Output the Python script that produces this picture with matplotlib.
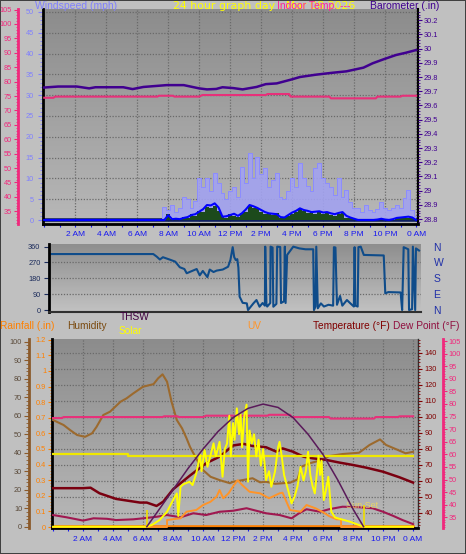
import numpy as np
import matplotlib
matplotlib.use('Agg')
import matplotlib.pyplot as plt
from matplotlib.ticker import MultipleLocator, FuncFormatter
from matplotlib.colors import LinearSegmentedColormap

plt.rcParams['font.family'] = ['Liberation Sans', 'DejaVu Sans']

# ======================= data =======================
time_ticks = [2, 4, 6, 8, 10, 12, 14, 16, 18, 20, 22, 24]
time_labels = ['2 AM', '4 AM', '6 AM', '8 AM', '10 AM', '12 PM',
               '2 PM', '4 PM', '6 PM', '8 PM', '10 PM', '0 AM']

# barometer (in)
baro_h = [0.0, 0.9, 2.1, 2.9, 3.3, 5.1, 5.7, 6.4, 7.9, 9.0, 10.0, 10.5, 11.1, 11.5, 12.2,
          12.8, 13.7, 14.3, 15.0, 16.0, 16.5, 17.5, 18.6, 19.5, 20.6, 21.2, 21.9, 22.7, 23.3, 24.0]
baro_in = [29.726, 29.733, 29.733, 29.72, 29.728, 29.728, 29.715, 29.73, 29.743, 29.743,
           29.72, 29.713, 29.716, 29.728, 29.722, 29.713, 29.73, 29.75, 29.755, 29.784,
           29.80, 29.816, 29.83, 29.84, 29.866, 29.897, 29.925, 29.955, 29.97, 29.99]

# indoor temperature (F)
indoor_h = [0.0, 0.6, 0.7, 7.3, 7.4, 8.3, 8.4, 10.0, 10.2, 14.3, 14.4, 15.8, 15.9,
            18.4, 18.5, 21.4, 21.5, 23.0, 23.1, 24.0]
indoor_f = [74.4, 74.4, 74.8, 74.8, 75.1, 75.1, 74.8, 74.8, 75.35, 75.35, 75.7, 75.7, 74.8,
            74.8, 74.2, 74.2, 74.8, 74.8, 75.1, 75.1]

# wind (mph), every 15 minutes from 0:00 to 24:00
wind_h = np.arange(0, 24.01, 0.25)
gust_mph = [0.0] * 31 + [
    3.2, 2.4, 3.5, 2.0, 3.0,
    5.6, 5.0, 3.0, 4.5,
    10.0, 8.0, 10.0, 7.0,
    11.2, 9.0, 6.5, 5.0,
    7.0, 8.0, 5.5, 12.8,
    9.0, 16.0, 10.0, 15.2,
    11.0, 12.5, 8.0, 9.5,
    11.3, 5.6, 5.0, 7.0,
    10.0, 8.0, 13.7, 10.0,
    8.2, 7.0, 12.5, 13.7,
    10.0, 9.0, 8.0, 6.0,
    10.0, 5.5, 7.2, 4.4,
    3.0, 2.9, 2.0, 3.5,
    2.5, 2.0, 2.6, 4.4,
    3.0, 2.5, 3.0, 3.6,
    3.0, 5.3, 7.2, 2.4,
    1.0]
avg_mph = [0.0] * 31 + [
    0.0, 1.2, 0.2, 0.3, 0.2,
    0.5, 0.7, 1.2, 1.4,
    2.0, 2.6, 3.6, 3.5,
    4.0, 3.0, 0.8, 0.9,
    1.2, 1.5, 1.0, 1.6,
    2.5, 3.6, 3.3, 2.9,
    2.4, 1.9, 1.6, 1.5,
    1.4, 0.7, 0.6, 1.2,
    1.8, 2.2, 2.8, 2.4,
    2.2, 1.9, 2.0, 2.1,
    1.8, 1.9, 1.6, 1.4,
    1.7, 1.9, 1.0, 0.6,
    0.3, 0.0, 0.0, 0.0,
    0.0, 0.0, 0.1, 0.3,
    0.1, 0.0, 0.2, 0.5,
    0.6, 0.7, 0.8, 0.6,
    0.0]
speed_mph = [0.0] * 31 + [
    0.0, 1.5, 0.3, 0.5, 0.3,
    0.8, 0.6, 1.4, 1.0,
    2.2, 2.0, 3.2, 2.8,
    3.4, 2.2, 0.9, 0.6,
    1.4, 1.0, 0.8, 1.8,
    2.0, 3.4, 2.8, 3.0,
    2.0, 1.5, 1.8, 1.2,
    1.6, 0.5, 0.8, 1.0,
    1.5, 2.0, 2.6, 2.2,
    1.6, 2.0, 1.5, 2.2,
    1.4, 1.7, 1.2, 1.0,
    1.5, 1.6, 0.6, 0.4,
    0.2, 0.0, 0.0, 0.0,
    0.0, 0.0, 0.0, 0.2,
    0.0, 0.0, 0.1, 0.4,
    0.5, 0.5, 0.6, 0.4,
    0.0]

# wind direction (degrees)
dir_h = [0.0, 6.67, 6.9, 7.1, 7.3, 7.76, 8.1, 8.4, 8.7, 8.85, 9.2, 9.5, 9.7, 9.9, 10.2, 10.35,
         10.6, 10.8, 11.2, 11.55, 11.7, 11.85, 11.95, 12.05, 12.15, 12.22, 12.3, 12.5, 12.77,
         12.85, 13.2, 13.4, 13.6, 13.8, 13.95, 13.97, 14.05, 14.1, 14.3, 14.32, 14.45, 14.5,
         14.7, 14.75, 14.95, 15.0, 15.2, 15.25, 15.3, 15.4, 15.8, 16.2, 16.6, 17.1, 17.15,
         17.25, 17.3, 17.4, 17.6, 17.8, 18.1, 18.4, 18.45, 18.55, 18.65, 18.85, 19.0, 19.3,
         19.5, 19.75, 19.8, 19.85, 20.0, 20.05, 20.2, 20.4, 21.7, 21.8, 22.0, 22.8, 22.9,
         23.0, 23.3, 23.35, 23.55, 23.6, 23.75, 23.8, 24.0]
dir_deg = [318, 318, 303, 287, 300, 286, 275, 243, 233, 209, 222, 233, 197, 222, 187, 230,
           216, 224, 230, 246, 284, 357, 300, 284, 289, 241, 76, 41, 38,
           0, 38, 57, 19, 40, 25, 360, 30, 20, 40, 360, 355, 19,
           35, 360, 358, 40, 50, 360, 40, 313, 360, 350, 345, 345, 0,
           20, 360, 10, 38, 20, 30, 25, 357, 355, 30, 80, 25, 57,
           40, 20, 357, 25, 20, 357, 360, 313, 310, 95, 102, 100, 0,
           357, 345, 0, 5, 360, 0, 350, 338]

# outdoor humidity (%)
hum_h = [0.0, 0.7, 1.13, 1.6, 2.13, 2.6, 2.9, 3.35, 3.8, 4.5, 4.9, 5.35, 6.0, 6.7, 7.0, 7.3,
         7.6, 7.9, 8.25, 8.6, 8.9, 9.13, 9.6, 10.0, 10.5, 11.1, 11.8, 12.0, 12.5, 13.3, 13.8,
         14.2, 14.8, 15.8, 16.3, 16.55, 17.1, 17.9, 18.4, 19.3, 20.4, 21.1, 21.8, 22.2, 22.9,
         23.5, 24.0]
hum_pct = [57.7, 55.0, 52.3, 49.6, 48.6, 50.5, 54.0, 60.4, 62.2, 67.6, 69.4, 72.1, 75.7, 77.1,
           80.2, 82.4, 78.4, 67.6, 57.7, 53.2, 47.8, 43.2, 36.0, 30.6, 27.0, 25.2, 23.5, 24.3,
           25.0, 26.2, 24.0, 24.3, 23.2, 23.8, 25.6, 32.4, 34.3, 36.0, 38.2, 39.3, 40.0, 44.2,
           47.2, 44.2, 41.8, 39.7, 40.5]

# outdoor temperature (F)
temp_h = [0.0, 2.0, 2.5, 3.1, 4.2, 5.8, 6.25, 6.9, 7.35, 8.0, 9.1, 10.2, 11.1, 12.0, 12.7,
          13.3, 14.2, 14.9, 15.3, 16.0, 16.7, 17.3, 18.2, 19.1, 20.0, 20.9, 22.0, 23.1, 24.0]
temp_f = [55.3, 55.3, 55.6, 52.1, 48.6, 46.3, 46.3, 44.2, 46.9, 54.6, 63.0, 70.9, 75.0, 82.0,
          83.0, 81.7, 80.9, 78.1, 80.2, 78.1, 75.0, 74.0, 73.0, 71.3, 69.8, 68.1, 65.6, 62.1,
          58.8]

# dew point (F)
dew_h = [0.0, 0.9, 2.0, 2.7, 3.6, 4.2, 5.35, 6.0, 6.9, 7.6, 8.5, 9.35, 10.2, 11.1, 12.0,
         12.9, 14.2, 15.1, 15.9, 16.4, 16.9, 17.8, 18.4, 19.3, 20.4, 21.3, 22.0, 22.7, 23.3, 24.0]
dew_f = [35.9, 35.0, 33.7, 34.6, 34.4, 33.9, 34.2, 34.6, 35.2, 35.9, 35.0, 36.6, 35.9, 37.2,
         37.6, 38.6, 36.6, 35.9, 34.6, 36.6, 38.2, 37.2, 38.2, 39.2, 39.0, 38.6, 37.2, 35.5,
         33.9, 32.3]

# solar radiation (W/m2)
sol_h = [0.0, 6.25, 6.6, 7.1, 7.6, 8.0, 8.25, 8.35, 8.5, 8.7,
         9.1, 9.3, 9.55, 9.8, 9.9, 10.1, 10.3, 10.7, 10.85, 11.1,
         11.3, 11.45, 11.6, 11.75, 11.85, 12.0, 12.1, 12.25, 12.4, 12.5,
         12.6, 12.75, 12.9, 13.0, 13.1, 13.25, 13.4, 13.55, 13.7, 13.85,
         14.0, 14.1, 14.2, 14.4, 14.55, 14.8, 15.0, 15.1, 15.25, 15.4,
         15.6, 15.9, 16.1, 16.3, 16.5, 16.7, 16.85, 17.0, 17.15, 17.3,
         17.45, 17.6, 17.7, 17.8, 17.9, 18.05, 18.2, 18.35, 18.55, 18.8,
         19.0, 19.8, 20.4, 20.7, 24.0]
sol_w = [0, 0, 10, 36, 81, 144, 180, 58, 216, 230,
         243, 225, 289, 388, 300, 415, 324, 451, 380, 459,
         270, 420, 450, 600, 380, 560, 470, 640, 500, 610,
         430, 600, 660, 243, 520, 450, 500, 380, 470, 330,
         420, 344, 252, 300, 216, 300, 430, 459, 378, 280,
         220, 126, 162, 220, 324, 250, 300, 405, 280, 220,
         180, 300, 384, 280, 357, 144, 200, 270, 81, 50,
         45, 27, 9, 0, 0]

# theoretical (clear sky) solar curve
arc_h = [6.25, 7, 8, 9, 10, 11, 12, 13, 14, 15, 16, 17, 18, 19, 20, 20.7]
arc_w = [0, 85, 200, 315, 420, 515, 590, 640, 663, 645, 590, 500, 390, 250, 95, 0]

# yellow daily level line
level_h = [0.0, 5.0, 5.0, 24.0]
level_w = [393, 393, 384, 384]

# sunrise / sunset markers
sun_h = [6.25, 20.7]
sun_mark_w = [88, 117]

# UV index
uv_h = [0, 7.6, 7.6, 8.5, 8.9, 9.55, 10.0, 10.5, 10.9, 11.1, 11.35, 11.7, 12.0, 12.3, 12.6,
        13.1, 13.8, 14.4, 15.1, 15.3, 15.8, 16.5, 16.9, 17.5, 18.0, 18.4, 18.9, 19.2, 19.2, 24.0]
uv_idx = [0, 0, 0.45, 0.56, 0.98, 1.09, 1.41, 1.62, 1.94, 2.37, 1.84, 2.16, 2.6, 3.0, 2.7,
          2.26, 2.16, 1.84, 2.16, 2.2, 1.09, 0.98, 1.41, 1.2, 0.95, 0.7, 0.49, 0.49, 0, 0]

# rainfall (in)
rain_h = [0.0, 24.0]
rain_in = [0.0, 0.0]

# ======================= styling =======================
W, H = 466, 554
FIG_BG = '#c0c0c0'
C_WIND = '#8080ff'
C_PINK = '#f0287c'
C_BARO = '#400090'
C_TIME = '#1818f0'
C_HUM = '#8b5a2b'
C_RAIN = '#ff8000'
C_TEMP = '#800000'
C_DEW = '#a01850'
C_SOL = '#ffff00'
C_ARC = '#5a1a5a'
C_UV = '#ff9428'
GRID_C = '#6a6a6a'

fig = plt.figure(figsize=(W / 100, H / 100), dpi=100)
fig.patch.set_facecolor(FIG_BG)
fig.patch.set_edgecolor('#404040')
fig.patch.set_linewidth(1.2)


def rect(l, t, r, b):
    return [l / W, 1 - b / H, (r - l) / W, (b - t) / H]


def add_bg(rc, xlim, ylim, top_c, bot_c, xgrid=None, ygrid=None):
    bg = fig.add_axes(rc, zorder=-5)
    cmap = LinearSegmentedColormap.from_list('g', [top_c, bot_c])
    grad = np.linspace(0, 1, 256).reshape(-1, 1)
    bg.imshow(grad, aspect='auto', cmap=cmap, origin='upper',
              extent=(xlim[0], xlim[1], ylim[0], ylim[1]), zorder=0)
    bg.set_xlim(xlim)
    bg.set_ylim(ylim)
    if xgrid is not None:
        bg.set_xticks(xgrid)
    else:
        bg.set_xticks([])
    if ygrid is not None:
        bg.set_yticks(ygrid)
    else:
        bg.set_yticks([])
    bg.grid(True, color=GRID_C, linestyle=(0, (1, 1.3)), linewidth=0.9)
    bg.set_axisbelow(False)
    bg.tick_params(length=0, labelleft=False, labelbottom=False)
    for s in bg.spines.values():
        s.set_visible(False)
    return bg


def spines_only(a, keep):
    for k, s in a.spines.items():
        s.set_visible(k in keep)


def fmt_g(v, pos=None):
    s = f'{v:.1f}'
    if s.endswith('.0'):
        s = s[:-2]
    return s


# ---------------- top panel ----------------
R_TOP = rect(42.7, 9, 418, 224)
XL_TOP = (-0.1, 24.12)
YL_WIND = (-0.96, 50.7)
add_bg(R_TOP, XL_TOP, YL_WIND, '#8c8c8c', '#b8b8b8',
       xgrid=list(range(2, 25, 2)), ygrid=list(range(5, 51, 5)))

ax = fig.add_axes(R_TOP, zorder=1)
ax.set_facecolor('none')
ax.set_xlim(XL_TOP)
ax.set_ylim(YL_WIND)
spines_only(ax, ['left', 'bottom', 'right'])
ax.spines['left'].set_linewidth(2)
ax.spines['bottom'].set_linewidth(2)
ax.spines['right'].set_linewidth(1.5)
ax.yaxis.set_major_locator(MultipleLocator(5))
ax.yaxis.set_minor_locator(MultipleLocator(1))
ax.tick_params(axis='y', which='both', colors=C_WIND, labelsize=5.3, pad=3)
ax.tick_params(axis='y', which='major', length=3.5, width=0.8)
ax.tick_params(axis='y', which='minor', length=2, width=0.6)
ax.set_xticks(time_ticks, time_labels)
ax.xaxis.set_minor_locator(MultipleLocator(1))
ax.tick_params(axis='x', which='both', colors=C_TIME, labelsize=6, pad=2.5, length=2.5, width=0.8)
ax.tick_params(axis='x', which='minor', length=1.8)

ax.axhline(0, color='#102060', linewidth=2.6, zorder=1)
ax.fill_between(wind_h, 0, gust_mph, step='mid', color='#a2a2f0', alpha=0.9, linewidth=0, zorder=2)
ax.step(wind_h, gust_mph, where='mid', color='#8c8cff', linewidth=0.7, zorder=2.5)
ax.fill_between(wind_h, 0, speed_mph, step='mid', color='#1c4a1c', linewidth=0, zorder=3)
ax.plot(wind_h, avg_mph, color='#0000ff', linewidth=1.5, zorder=4)

# indoor temperature axis (left, pink)
ax_p = ax.twinx()
ax_p.set_ylim(30.6, 105.2)
ax_p.yaxis.set_ticks_position('left')
spines_only(ax_p, ['left'])
ax_p.spines['left'].set_position(('outward', 17.8))
ax_p.spines['left'].set_color(C_PINK)
ax_p.spines['left'].set_linewidth(2)
ax_p.yaxis.set_major_locator(MultipleLocator(5))
ax_p.yaxis.set_minor_locator(MultipleLocator(1))
ax_p.tick_params(axis='y', which='both', colors=C_PINK, labelsize=5.3, pad=1.2)
ax_p.tick_params(axis='y', which='major', length=3.2, width=0.8)
ax_p.tick_params(axis='y', which='minor', length=1.8, width=0.6)
ax_p.plot(indoor_h, indoor_f, color='#e8307a', linewidth=1.5, zorder=3)

# barometer axis (right)
ax_b = ax.twinx()
ax_b.set_ylim(28.765, 30.279)
spines_only(ax_b, [])
ax_b.yaxis.set_major_locator(MultipleLocator(0.1))
ax_b.yaxis.set_minor_locator(MultipleLocator(0.02))
ax_b.yaxis.set_major_formatter(FuncFormatter(fmt_g))
ax_b.tick_params(axis='y', which='both', colors=C_BARO, labelsize=5.3, pad=1.5)
ax_b.tick_params(axis='y', which='major', length=2.8, width=0.8)
ax_b.tick_params(axis='y', which='minor', length=1.6, width=0.6)
ax_b.plot(baro_h, baro_in, color=C_BARO, linewidth=1.8, zorder=3)

fig.text(35 / W, 1 - 6 / H, 'Windspeed (mph)', color=C_WIND, fontsize=7.5, va='center')
fig.text(173 / W, 1 - 6 / H, '24 hour graph day : Mar 08 2026', color='#ffff00',
         fontsize=7.9, va='center', family=['DejaVu Sans'])
fig.text(277 / W, 1 - 6 / H, 'Indoor Temp. ---', color='#ff20a0', fontsize=7.5, va='center')
fig.text(370 / W, 1 - 6 / H, 'Barometer (.in)', color=C_BARO, fontsize=7.5, va='center')

# ---------------- wind direction panel ----------------
R_MID = rect(49, 244, 421, 312)
XL_MID = (-0.13, 24.13)
YL_DIR = (-11, 375)
add_bg(R_MID, XL_MID, YL_DIR, '#8e8e8e', '#c2c2c2', ygrid=[90, 180, 270])
ad = fig.add_axes(R_MID, zorder=1)
ad.set_facecolor('none')
ad.set_xlim(XL_MID)
ad.set_ylim(YL_DIR)
spines_only(ad, ['left', 'bottom'])
ad.spines['left'].set_linewidth(2)
ad.spines['bottom'].set_linewidth(1.5)
ad.spines['bottom'].set_color('#303030')
ad.set_xticks([])
ad.set_yticks([0, 90, 180, 270, 360])
ad.tick_params(axis='y', colors='#1a2a5a', labelsize=5.3, length=3.6, width=0.8, pad=2.5)
ad.plot(dir_h, dir_deg, color='#0f4c8a', linewidth=1.5)

ad2 = ad.twinx()
ad2.set_ylim(YL_DIR)
spines_only(ad2, [])
ad2.set_yticks([0, 90, 180, 270, 360], ['N', 'E', 'S', 'W', 'N'])
ad2.tick_params(axis='y', colors='#2030a8', labelsize=7.5, length=0, pad=9)

# ---------------- bottom panel ----------------
R_BOT = rect(51.7, 339, 418, 528)
XL_BOT = (-0.09, 24.33)
YL_TEMP = (30.4, 148.6)
add_bg(R_BOT, XL_BOT, YL_TEMP, '#8c8c8c', '#b8b8b8',
       xgrid=list(range(2, 25, 2)), ygrid=list(range(40, 141, 10)))

ar = fig.add_axes(R_BOT, zorder=1)
ar.set_facecolor('none')
ar.set_xlim(XL_BOT)
ar.set_ylim(-0.0064, 1.205)
spines_only(ar, ['left', 'bottom', 'right'])
ar.spines['left'].set_linewidth(2)
ar.spines['bottom'].set_linewidth(2)
ar.spines['right'].set_linewidth(1)
ar.spines['right'].set_color('#303030')
ar.yaxis.set_major_locator(MultipleLocator(0.1))
ar.yaxis.set_minor_locator(MultipleLocator(0.02))
ar.yaxis.set_major_formatter(FuncFormatter(fmt_g))
ar.tick_params(axis='y', which='both', colors=C_RAIN, labelsize=5.3, pad=1)
ar.tick_params(axis='y', which='major', length=3, width=0.8)
ar.tick_params(axis='y', which='minor', length=1.6, width=0.6)
ar.set_xticks(time_ticks, time_labels)
ar.xaxis.set_minor_locator(MultipleLocator(1))
ar.tick_params(axis='x', which='both', colors=C_TIME, labelsize=6, pad=3.2, length=2.5, width=0.8)
ar.tick_params(axis='x', which='minor', length=1.8)
ar.plot(rain_h, rain_in, color=C_RAIN, linewidth=2.6, zorder=2)

# humidity axis (left outer)
ah = ar.twinx()
ah.set_ylim(-0.7, 101.5)
ah.yaxis.set_ticks_position('left')
spines_only(ah, ['left'])
ah.spines['left'].set_position(('outward', 16.1))
ah.spines['left'].set_color(C_HUM)
ah.spines['left'].set_linewidth(2)
ah.yaxis.set_major_locator(MultipleLocator(10))
ah.yaxis.set_minor_locator(MultipleLocator(2))
ah.tick_params(axis='y', which='both', colors=C_HUM, labelcolor='#5a4a3a', labelsize=5.3, pad=1.5)
ah.tick_params(axis='y', which='major', length=3.6, width=0.8)
ah.tick_params(axis='y', which='minor', length=2, width=0.6)
ah.plot(hum_h, hum_pct, color='#9c6a2e', linewidth=1.5, zorder=3)

# dew point axis (right outer, pink)
ap = ar.twinx()
ap.set_ylim(30.75, 105.8)
spines_only(ap, ['right'])
ap.spines['right'].set_position(('outward', 18))
ap.spines['right'].set_color(C_PINK)
ap.spines['right'].set_linewidth(2)
ap.yaxis.set_major_locator(MultipleLocator(5))
ap.yaxis.set_minor_locator(MultipleLocator(1))
ap.tick_params(axis='y', which='both', colors=C_PINK, labelsize=5.3, pad=1)
ap.tick_params(axis='y', which='major', length=3, width=0.8)
ap.tick_params(axis='y', which='minor', length=1.6, width=0.6)
ap.plot(indoor_h, indoor_f, color='#e8307a', linewidth=1.5, zorder=3)
ap.plot(dew_h, dew_f, color=C_DEW, linewidth=1.5, zorder=3)

# temperature axis (right)
at = ar.twinx()
at.set_ylim(YL_TEMP)
spines_only(at, [])
at.yaxis.set_major_locator(MultipleLocator(10))
at.yaxis.set_minor_locator(MultipleLocator(2))
at.tick_params(axis='y', which='both', colors=C_TEMP, labelsize=5.3, pad=2)
at.tick_params(axis='y', which='major', length=2.8, width=0.8)
at.tick_params(axis='y', which='minor', length=1.6, width=0.6)
at.plot(temp_h, temp_f, color='#7a0010', linewidth=1.8, zorder=3)

# UV (hidden scale)
au = ar.twinx()
au.set_ylim(-0.064, 12.05)
au.axis('off')
au.plot(uv_h, uv_idx, color=C_UV, linewidth=1.4, zorder=3)

# solar (hidden scale)
asol = ar.twinx()
asol.set_ylim(-7, 1015)
asol.axis('off')
asol.plot(level_h, level_w, color='#f0e800', linewidth=1.6, zorder=2)
asol.plot(sol_h, sol_w, color=C_SOL, linewidth=1.4, zorder=3)
asol.vlines(sun_h, 0, sun_mark_w, color='#f0e000', linewidth=1.2, zorder=3)
asol.plot(arc_h, arc_w, color=C_ARC, linewidth=1.1, zorder=4)
asol.text(19.55, 112, 'Sun Set', color='#e8d468', fontsize=6.5, va='center', ha='left')

# bottom panel header
fig.text(0 / W, 1 - 326 / H, 'Rainfall (.in)', color=C_RAIN, fontsize=7.3, va='center')
fig.text(67 / W, 1 - 326 / H, 'Humidity', color='#7a4a10', fontsize=7.3, va='center')
fig.text(120 / W, 1 - 317 / H, 'THSW', color='#400040', fontsize=7.3, va='center')
fig.text(119 / W, 1 - 331 / H, 'Solar', color='#ffff00', fontsize=7.3, va='center')
fig.text(247 / W, 1 - 326 / H, 'UV', color=C_UV, fontsize=7.3, va='center')
fig.text(313 / W, 1 - 326 / H, 'Temperature (°F)', color='#800000', fontsize=7.3, va='center')
fig.text(393 / W, 1 - 326 / H, 'Dew Point (°F)', color='#901040', fontsize=7.3, va='center')

fig.savefig('out.png', dpi=100, facecolor=fig.get_facecolor(), edgecolor=fig.get_edgecolor())
